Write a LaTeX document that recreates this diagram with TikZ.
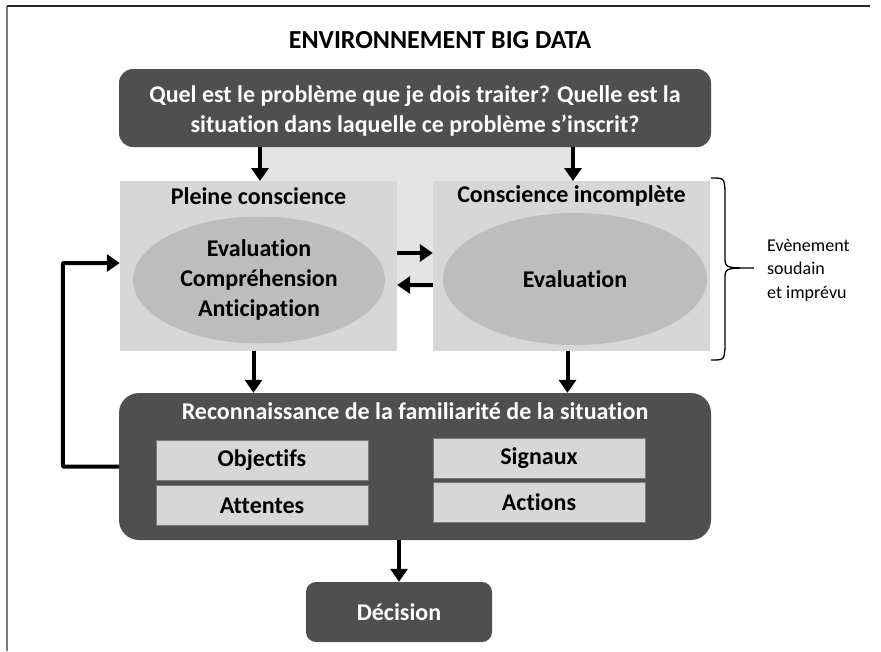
\documentclass[tikz,border=0pt]{standalone}
\usepackage{fontspec}
\setmainfont{Carlito}[Ligatures=NoCommon]
\usetikzlibrary{arrows.meta,calc,shapes.geometric}
\definecolor{dark}{HTML}{4F4F4F}
\definecolor{light}{HTML}{D7D7D7}
\definecolor{ell}{HTML}{BDBDBD}
\definecolor{band}{HTML}{E4E4E4}
\definecolor{frame}{HTML}{7A7A7A}
\begin{document}
\begin{tikzpicture}[x=1pt,y=-1pt,
  bigtxt/.style={font=\fontsize{24}{30}\selectfont\bfseries},
  titletxt/.style={font=\fontsize{26}{31}\selectfont\bfseries},
  darkbox/.style={fill=dark,draw=none,text=white,bigtxt,align=center,inner sep=0pt},
  lightbox/.style={fill=light,draw=none,inner sep=0pt},
  ellbox/.style={ellipse,fill=ell,draw=none,bigtxt,align=center,inner sep=0pt},
  subbox/.style={fill=light,draw=frame,line width=0.8pt,bigtxt,inner sep=0pt,minimum width=212,minimum height=40},
  arr/.style={line width=4pt,-{Triangle[length=13pt,width=17pt]}},
  lbl/.style={font=\fontsize{18}{23.5}\selectfont,align=left,anchor=west,inner sep=0pt}
]
\useasboundingbox (0,0) rectangle (881,651);
\fill[white] (0,0) rectangle (881,651);
% frame (cropped)
\draw[frame,line width=1.2pt] (7,651) -- (7,6);
\draw[black!85,line width=1.2pt] (7,6) -- (870,6);
% title
\node[titletxt] (title) at (440,40) {ENVIRONNEMENT BIG DATA};
% light band behind
\fill[band] (262,140) rectangle (573,288);
% top box
\node[darkbox,minimum width=592,minimum height=78,rounded corners=14] (top) at (415,108) {};
\node[bigtxt,text=white,align=center] (toptxt) at (415,111)
  {Quel est le problème que je dois traiter? Quelle est la\\situation dans laquelle ce problème s’inscrit?};
% awareness boxes
\node[lightbox,minimum width=277,minimum height=170] (lb) at (258.5,266) {};
\node[lightbox,minimum width=277,minimum height=170] (rb) at (571.5,266) {};
\node[bigtxt,text=black] (lbt) at (258.5,196) {Pleine conscience};
\node[bigtxt,text=black] (rbt) at (571.5,196) {Conscience incomplète};
\node[ellbox,minimum width=252,minimum height=127] (le) at (259,280) {Evaluation\\Compréhension\\Anticipation};
\node[ellbox,minimum width=264,minimum height=132] (re) at (575,279) {Evaluation};
% bottom box
\node[darkbox,minimum width=592,minimum height=147,rounded corners=20] (bot) at (415,466.5) {};
\node[bigtxt,text=white] (bott) at (415,411) {Reconnaissance de la familiarité de la situation};
\node[subbox] (obj) at (262,460) {Objectifs};
\node[subbox] (att) at (262,505.5) {Attentes};
\node[subbox] (sig) at (539,458) {Signaux};
\node[subbox] (act) at (539,502) {Actions};
% decision
\node[darkbox,minimum width=186,minimum height=60,rounded corners=10] (dec) at (399,612) {Décision};
% arrows
\draw[arr] (top.south -| 260,0) -- (260,181);
\draw[arr] (top.south -| 573,0) -- (573,181);
\draw[arr] ([yshift=13pt]lb.east) -- ([yshift=13pt]rb.west);
\draw[arr] ([yshift=-19pt]rb.west) -- ([yshift=-19pt]lb.east);
\draw[arr] ([xshift=-5pt]lb.south) -- ([xshift=-5pt]lb.south |- bot.north);
\draw[arr] ([xshift=-4pt]rb.south) -- ([xshift=-4pt]rb.south |- bot.north);
\draw[arr] (bot.south -| dec.north) -- (dec.north);
\draw[arr,rounded corners=1pt] (bot.west) -- ++(-56,0) |- ([yshift=3pt]lb.west);
% brace
\draw[line width=1.3pt] (711,178) .. controls (724,178) .. (725,190) -- (725,257)
  .. controls (725,268) .. (754,268) .. controls (725,268) .. (725,279) -- (725,348)
  .. controls (724,360) .. (711,360);
\node[lbl] (ev) at (767,270) {Evènement\\soudain\\et imprévu};
\end{tikzpicture}
\end{document}
